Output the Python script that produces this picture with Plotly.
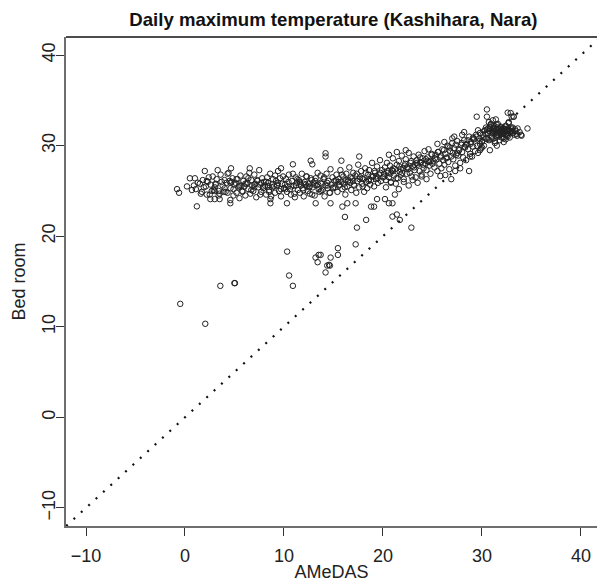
import plotly.graph_objects as go

# ---- data ----
band1_x = [-0.8, -0.6, 0.5, 1.0, 1.1, 1.2, 1.5, 1.8, 2.0, 2.1, 2.3, 2.5, 2.6, 2.8, 3.0, 3.0, 3.2, 3.4, 3.5, 3.6,
           3.8, 4.0, 4.1, 4.2, 4.4, 4.5, 4.6, 4.8, 4.9, 5.0, 2.2, 3.3, 3.9, 4.3, 1.7, 2.9, 4.7, 3.1, 0.9, 2.4,
           2.56, 3.0, 3.5, 4.58, 4.58, 4.65]
band1_y = [25.2, 24.8, 26.4, 26.4, 25.2, 23.3, 25.8, 26.2, 27.2, 25.5, 26.0, 24.6, 25.7, 26.6, 25.0, 25.4, 26.3, 25.0, 24.7, 26.8,
           25.6, 26.2, 24.9, 25.9, 27.0, 26.1, 25.3, 26.4, 24.5, 25.7, 24.6, 27.3, 24.9, 26.9, 24.9, 25.1, 26.0, 25.8, 25.6, 26.5,
           24.1, 24.1, 24.1, 23.64, 24.0, 27.5]
band2_x = [5.1, 5.2, 5.3, 5.4, 5.5, 5.6, 5.7, 5.8, 5.9, 6.0, 6.1, 6.2, 6.3, 6.4, 6.5, 6.6, 6.7, 6.8, 6.9, 7.0,
           7.1, 7.2, 7.3, 7.4, 7.5, 7.6, 7.7, 7.8, 7.9, 8.0, 8.1, 8.2, 8.3, 8.4, 8.5, 8.6, 8.7, 8.8, 8.9, 9.0,
           9.1, 9.2, 9.3, 9.4, 9.5, 9.6, 9.7, 9.8, 9.9, 10.0, 6.54, 9.7, 8.63, 8.63, 5.5, 6.2, 7.0, 7.7, 8.4, 9.3]
band2_y = [25.9, 24.8, 26.3, 25.4, 24.2, 26.7, 25.6, 25.0, 26.1, 25.5, 24.5, 26.6, 25.9, 25.2, 27.0, 24.7, 26.2, 25.6, 25.0, 26.8,
           25.8, 24.3, 26.1, 25.4, 27.3, 25.7, 24.9, 26.4, 25.3, 26.0, 25.6, 24.6, 26.5, 25.9, 25.1, 26.9, 24.4, 25.7, 26.3, 25.5,
           24.8, 26.1, 25.6, 27.2, 25.0, 26.4, 24.4, 25.8, 26.6, 25.3, 27.5, 27.5, 24.1, 23.64, 25.5, 25.8, 25.4, 25.9, 25.5, 25.7]
band3_x = [10.1, 10.2, 10.3, 10.4, 10.5, 10.6, 10.7, 10.8, 10.9, 11.0, 11.1, 11.2, 11.3, 11.4, 11.5, 11.6, 11.7, 11.8, 11.9, 12.0,
           12.1, 12.2, 12.3, 12.4, 12.5, 12.6, 12.7, 12.8, 12.9, 13.0, 13.1, 13.2, 13.3, 13.4, 13.5, 13.6, 13.7, 13.8, 13.9, 14.0,
           14.1, 14.2, 14.3, 14.4, 14.5, 14.6, 14.7, 14.8, 14.9, 15.0, 10.9, 12.7, 12.86, 14.2, 14.2, 10.3, 13.2, 14.7,
           11.2, 12.0, 12.6, 13.1, 13.7, 14.4, 11.6, 12.3]
band3_y = [25.7, 26.3, 24.9, 25.5, 26.8, 25.2, 24.6, 26.1, 26.9, 25.6, 24.3, 26.5, 25.9, 25.1, 26.2, 24.8, 25.6, 26.9, 25.3, 24.4,
           26.0, 25.7, 26.6, 25.0, 25.8, 24.7, 26.4, 26.2, 25.4, 25.9, 24.5, 26.4, 25.6, 27.0, 25.2, 24.9, 26.7, 25.8, 25.1, 26.3,
           24.4, 25.6, 26.9, 25.3, 26.1, 24.8, 27.4, 25.7, 26.5, 25.4, 27.94, 28.34, 27.94, 29.16, 28.8, 23.64, 23.64, 23.64,
           25.6, 25.8, 25.5, 25.7, 25.9, 25.6, 26.0, 25.5]
band4_x = [15.1, 15.2, 15.3, 15.4, 15.5, 15.6, 15.7, 15.8, 15.9, 16.0, 16.1, 16.2, 16.3, 16.4, 16.5, 16.6, 16.7, 16.8, 16.9, 17.0,
           17.1, 17.2, 17.3, 17.4, 17.5, 17.6, 17.7, 17.8, 17.9, 18.0, 18.1, 18.2, 18.3, 18.4, 18.5, 18.6, 18.7, 18.8, 18.9, 19.0,
           19.1, 19.2, 19.3, 19.4, 19.5, 19.6, 19.7, 19.8, 19.9, 20.0, 15.8, 15.9, 16.4, 17.24, 18.8, 19.1, 17.6, 19.4,
           15.5, 16.2, 17.0, 17.9, 18.6, 19.3]
band4_y = [26.1, 25.4, 26.8, 24.9, 26.3, 25.7, 27.3, 26.0, 25.2, 26.6, 25.8, 24.6, 26.9, 25.5, 26.2, 27.6, 25.9, 25.1, 26.4, 27.0,
           25.6, 26.7, 24.8, 26.1, 27.9, 25.4, 26.5, 27.2, 25.8, 26.3, 24.9, 27.5, 26.0, 25.3, 26.8, 27.3, 25.7, 26.2, 28.1, 26.6,
           25.5, 27.0, 26.3, 27.7, 25.9, 26.8, 28.4, 26.1, 27.3, 26.5, 28.34, 23.27, 23.64, 23.64, 23.27, 23.27, 28.8, 24.1,
           26.0, 26.2, 26.1, 26.4, 26.3, 26.6]
band5_x = [20.1, 20.2, 20.3, 20.4, 20.5, 20.6, 20.7, 20.8, 20.9, 21.0, 21.1, 21.2, 21.3, 21.4, 21.5, 21.6, 21.7, 21.8, 21.9, 22.0,
           22.1, 22.2, 22.3, 22.4, 22.5, 22.6, 22.7, 22.8, 22.9, 23.0, 23.1, 23.2, 23.3, 23.4, 23.5, 23.6, 23.7, 23.8, 23.9, 24.0,
           24.1, 24.2, 24.3, 24.4, 24.5, 24.6, 24.7, 24.8, 24.9, 25.0, 20.3, 20.8, 21.2, 21.6, 22.1, 22.6, 23.0, 23.5, 23.9,
           24.4, 24.8, 20.6, 21.4, 22.3, 20.2, 20.6, 20.96, 21.0, 21.8, 22.4, 23.2, 23.8, 24.5]
band5_y = [26.9, 27.6, 26.2, 28.1, 27.0, 26.5, 27.8, 26.0, 27.3, 28.6, 26.7, 27.4, 25.8, 27.9, 26.4, 28.3, 27.1, 26.8, 28.9, 27.5,
           26.3, 27.8, 28.5, 26.9, 27.6, 29.2, 27.0, 28.1, 26.6, 27.7, 28.8, 27.3, 26.5, 28.4, 27.9, 29.0, 27.2, 28.2, 26.8, 28.6,
           27.5, 29.4, 28.0, 27.3, 28.7, 29.6, 27.8, 28.3, 29.1, 28.0, 25.4, 25.9, 24.6, 25.2, 26.0, 25.6, 26.2, 25.9, 26.6,
           26.3, 26.9, 29.0, 29.3, 29.5, 24.1, 23.64, 23.64, 27.2, 27.4, 27.6, 27.9, 28.1, 28.3]
band6_x = [25.1, 25.2, 25.3, 25.4, 25.5, 25.6, 25.7, 25.8, 25.9, 26.0, 26.1, 26.2, 26.3, 26.4, 26.5, 26.6, 26.7, 26.8, 26.9, 27.0,
           27.1, 27.2, 27.3, 27.4, 27.5, 27.6, 27.7, 27.8, 27.9, 28.0, 28.1, 28.2, 28.3, 28.4, 28.5, 28.6, 28.7, 28.8, 28.9, 29.0,
           29.1, 29.2, 29.3, 29.4, 29.5, 29.6, 29.7, 29.8, 29.9, 30.0, 25.8, 26.3, 26.9, 27.3, 27.8, 28.7, 28.8, 29.8, 29.47,
           27.0, 26.2, 28.0, 25.5, 26.6, 27.5, 28.4, 29.1, 29.6, 28.2, 27.2]
band6_y = [28.3, 27.6, 29.0, 28.5, 27.2, 29.3, 28.0, 28.7, 27.5, 29.6, 28.4, 27.9, 29.1, 28.6, 30.0, 28.2, 27.4, 29.4, 28.8, 30.3,
           28.5, 29.7, 27.8, 29.0, 30.5, 28.9, 29.5, 28.1, 30.1, 29.3, 28.7, 30.6, 29.8, 28.4, 30.2, 29.6, 31.0, 29.1, 30.4, 28.8,
           29.9, 30.7, 29.4, 31.2, 30.0, 29.2, 30.8, 31.4, 29.7, 30.5, 26.65, 26.76, 26.3, 27.2, 27.5, 27.2, 28.8, 29.5, 33.2,
           30.8, 30.4, 31.2, 30.2, 29.9, 29.2, 30.1, 30.9, 31.7, 31.5, 31.0]
band7_x = [30.0, 30.1, 30.2, 30.3, 30.4, 30.5, 30.6, 30.7, 30.8, 30.9, 31.0, 31.1, 31.2, 31.3, 31.4, 31.5, 31.6, 31.7, 31.8, 31.9,
           32.0, 32.1, 32.2, 32.3, 32.4, 32.5, 32.6, 32.7, 32.8, 32.9, 33.0, 33.1, 33.2, 33.3, 33.4, 33.5, 33.6, 33.8, 34.0, 34.6,
           30.2, 30.5, 30.8, 31.0, 31.2, 31.4, 31.5, 31.6, 31.7, 31.8, 31.9, 32.0, 32.1, 32.2, 32.3, 32.4, 32.5, 32.6, 32.7, 32.8,
           31.3, 31.5, 31.8, 32.0, 32.2, 32.4, 32.6, 31.1, 30.7, 30.4, 33.0, 32.9, 30.5, 30.9, 33.2, 32.6, 31.4, 30.8, 30.0, 29.8,
           33.95, 31.6, 32.0, 32.3, 31.9, 32.5, 31.2, 32.1]
band7_y = [30.4, 31.2, 30.0, 31.7, 30.8, 34.0, 31.4, 30.6, 31.9, 32.3, 30.9, 31.5, 32.0, 30.5, 31.8, 31.2, 32.4, 31.0, 31.6, 32.1,
           31.3, 31.9, 30.8, 31.5, 32.2, 31.1, 31.7, 32.5, 30.9, 31.4, 31.8, 32.0, 33.2, 31.2, 31.6, 31.3, 31.9, 31.5, 31.1, 31.9,
           31.6, 31.8, 32.1, 31.4, 31.9, 31.6, 32.3, 31.2, 31.8, 31.5, 32.0, 31.7, 31.3, 31.9, 31.6, 32.1, 31.4, 31.8, 32.6, 31.5,
           30.3, 30.0, 30.6, 30.9, 30.4, 30.7, 31.0, 32.8, 32.6, 32.0, 33.2, 33.6, 33.2, 32.4, 33.2, 33.64, 32.9, 29.5, 29.8, 30.2,
           31.2, 31.7, 31.6, 31.8, 31.5, 31.7, 31.6, 31.4]
core_x = [0.2, 0.7, 1.3, 1.6, 1.9, 2.2, 2.7, 3.1, 3.4, 3.7, 4.0, 4.3, 4.6, 4.9, 5.2, 5.5, 5.8, 6.1, 6.4, 6.7,
          7.0, 7.3, 7.6, 7.9, 8.2, 8.5, 8.8, 9.1, 9.4, 9.7,
          10.15, 10.45, 10.75, 11.05, 11.35, 11.65, 11.95, 12.25, 12.55, 12.85, 13.15, 13.45, 13.75, 14.05, 14.35, 14.65,
          14.95, 15.25, 15.55, 15.85, 16.15, 16.45, 16.75, 17.05, 17.35, 17.65, 17.95, 18.25, 18.55, 18.85, 19.15, 19.45, 19.75,
          20.15, 20.45, 20.75, 21.05, 21.35, 21.65, 21.95, 22.25, 22.55, 22.85, 23.15, 23.45, 23.75, 24.05, 24.35, 24.65,
          24.95, 25.25, 25.55, 25.85, 26.15, 26.45, 26.75, 27.05, 27.35, 27.65, 27.95, 28.25, 28.55, 28.85, 29.15, 29.45, 29.75,
          30.15, 30.35, 30.55, 30.75, 30.95, 31.15, 31.35, 31.55, 31.75, 31.95, 32.15, 32.35, 32.55, 32.75, 32.95, 33.15,
          33.35, 33.55, 31.05, 31.45, 31.85, 32.25, 32.65, 33.05, 30.65, 31.25, 31.65, 32.05, 32.45, 32.85]
core_y = [25.5, 25.1, 25.9, 24.7, 25.4, 26.1, 25.0, 25.7, 24.5, 26.0, 25.3, 24.8, 25.9, 25.2, 26.3, 25.6, 24.9, 25.8, 26.4, 25.1,
          25.7, 26.2, 24.6, 25.5, 26.0, 24.9, 25.4, 26.7, 25.9, 25.2,
          25.2, 26.0, 25.5, 24.7, 26.3, 25.8, 25.1, 26.6, 25.4, 24.6, 26.1, 25.7, 25.0, 26.5, 25.9, 24.8,
          25.3, 26.2, 25.6, 26.8, 25.4, 26.0, 26.5, 25.7, 26.9, 26.3, 25.5, 27.0, 26.1, 26.6, 27.2, 26.4, 27.0,
          26.6, 27.2, 26.9, 27.5, 26.4, 27.7, 27.0, 28.0, 27.4, 28.3, 27.6, 28.1, 28.7, 27.9, 28.5, 28.2,
          29.0, 28.6, 29.3, 28.9, 29.5, 28.7, 29.8, 29.2, 30.1, 29.6, 30.3, 29.9, 30.6, 30.2, 30.8, 31.0, 30.5,
          30.9, 31.3, 30.7, 31.6, 31.1, 31.8, 31.4, 32.0, 31.6, 31.3, 31.9, 31.5, 31.2, 31.7, 32.0, 31.4,
          31.8, 31.1, 30.7, 31.0, 31.2, 31.4, 31.9, 31.6, 31.9, 32.2, 31.5, 31.8, 31.3, 31.6]
low_x = [-0.48, 2.05, 3.57, 4.99, 5.05, 10.32, 10.52, 10.9, 13.19, 13.4, 13.7, 13.5, 14.71, 15.45, 15.45, 14.37, 14.64,
         14.2, 14.55, 17.37, 17.24, 16.16, 18.3, 20.96, 21.4, 21.7, 22.87]
low_y = [12.53, 10.33, 14.52, 14.82, 14.82, 18.3, 15.66, 14.52, 17.64, 17.13, 17.94, 17.94, 17.64, 18.68, 17.94, 16.76, 16.76,
         16.0, 16.84, 20.95, 19.1, 22.13, 21.8, 22.17, 22.4, 21.8, 20.95]

amedas = band1_x + band2_x + band3_x + band4_x + band5_x + band6_x + band7_x + core_x + low_x
bedroom = band1_y + band2_y + band3_y + band4_y + band5_y + band6_y + band7_y + core_y + low_y

line_ends = [-12, 42]
tick_vals = [-10, 0, 10, 20, 30, 40]

FONT = "Liberation Sans, Arial, Helvetica, sans-serif"

fig = go.Figure()
fig.add_trace(go.Scatter(
    x=line_ends, y=line_ends, mode="lines",
    line=dict(color="#111111", width=2.2, dash="2px,8px"),
    hoverinfo="skip", showlegend=False))
fig.add_trace(go.Scatter(
    x=amedas, y=bedroom, mode="markers",
    marker=dict(symbol="circle-open", size=5.5, color="#222222", line=dict(width=1, color="#222222")),
    showlegend=False))

axis_common = dict(
    tickvals=tick_vals, ticks="outside", ticklen=8, tickwidth=1, tickcolor="#333333",
    showline=True, mirror=False, linecolor="#6e6e6e", linewidth=1.6, showgrid=False, zeroline=False,
    tickfont=dict(family=FONT, size=18, color="#222222"),
)

fig.update_layout(
    width=597, height=582,
    margin=dict(l=66, r=0, t=37, b=56),
    paper_bgcolor="white", plot_bgcolor="white",
    font=dict(family=FONT, color="#222222"),
    title=dict(text="<b>Daily maximum temperature (Kashihara, Nara)</b>",
               font=dict(family=FONT, size=18.6, color="#111111"),
               xref="container", x=333.4 / 597, xanchor="center",
               yref="container", y=1 - 19 / 582, yanchor="middle"),
    xaxis=dict(range=[-12.02, 41.62], **axis_common,
               ticklabelstandoff=5,
               title=dict(text="AMeDAS", font=dict(family=FONT, size=18, color="#222222"), standoff=0)),
    yaxis=dict(range=[-12, 42], **axis_common, tickangle=-90,
               ticklabelstandoff=-6,
               title=dict(text="Bed room", font=dict(family=FONT, size=18, color="#222222"), standoff=9)),
    shapes=[
        dict(type="line", xref="paper", yref="paper", x0=0, x1=1, y0=1, y1=1, layer="above",
             line=dict(color="#111111", width=1.6)),
    ],
)

fig.write_html("out.html")
